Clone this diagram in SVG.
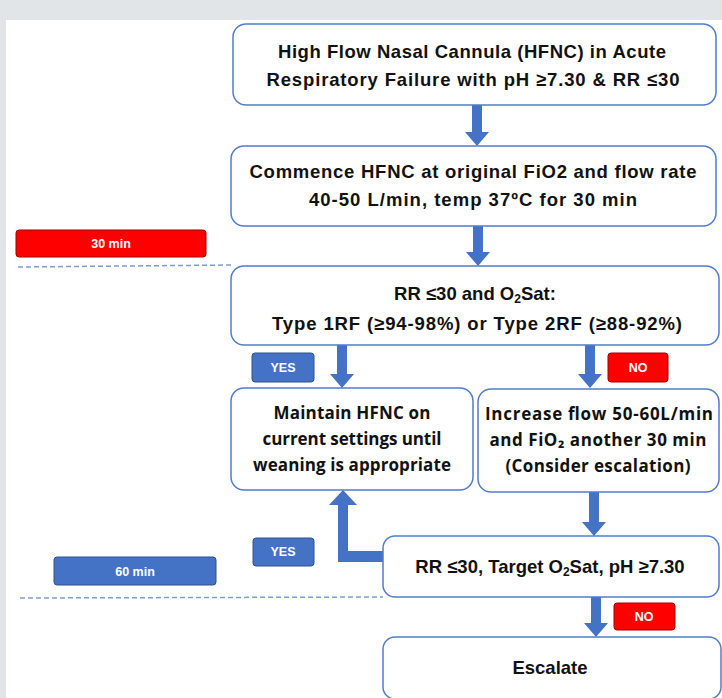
<svg xmlns="http://www.w3.org/2000/svg" width="722" height="698" viewBox="0 0 722 698">
<defs>
<style>
.box{fill:#fff;stroke:#4f7ccc;stroke-width:1.5}
.t{font-family:"Liberation Sans",Arial,sans-serif;font-weight:bold;font-size:18.5px;fill:#111;text-anchor:middle}
.o{font-family:"Open Sans","Liberation Sans",sans-serif;font-weight:bold;font-size:17px;fill:#111;text-anchor:middle}
.lbl{font-family:"Liberation Sans",Arial,sans-serif;font-weight:bold;font-size:12.5px;fill:#fff;text-anchor:middle}
.blue{fill:#4472c4;stroke:#2f528f;stroke-width:1}
.red{fill:#ff0000;stroke:#a00000;stroke-width:1}
.arr{fill:#4472c4}
.dash{stroke:#7f9bd6;stroke-width:1.5;stroke-dasharray:5 3;fill:none}
</style>
</defs>
<rect width="722" height="698" fill="#e1e5e7"/>
<rect x="6" y="20" width="716" height="678" fill="#fff"/>

<g id="connectors">
<path class="arr" d="M472,105 h10 v27 h7 l-12,14 l-12,-14 h7 z"/>
<path class="arr" d="M473,226 h10 v26 h7 l-12,14 l-12,-14 h7 z"/>
<path class="arr" d="M337,345 h10 v29 h7 l-12,14 l-12,-14 h7 z"/>
<path class="arr" d="M585,345 h10 v29 h7 l-12,14 l-12,-14 h7 z"/>
<path class="arr" d="M589,492 h10 v30 h7 l-12,14 l-12,-14 h7 z"/>
<path class="arr" d="M591,597 h10 v26 h7 l-12,14 l-12,-14 h7 z"/>
<path class="arr" d="M383,551 v11 h-45 v-57 h-9 l14,-15 l14,15 h-9 v46 z"/>
<line class="dash" x1="18" y1="267" x2="233" y2="265"/>
<line class="dash" x1="20" y1="598" x2="383" y2="597"/>
</g>

<g id="n1">
<rect class="box" x="233" y="24" width="483" height="81" rx="13"/>
<text class="t" x="472" y="58" textLength="388">High Flow Nasal Cannula (HFNC) in Acute</text>
<text class="t" x="473" y="86" textLength="413">Respiratory Failure with pH ≥7.30 &amp; RR ≤30</text>
</g>
<g id="n2">
<rect class="box" x="231" y="146" width="485" height="80" rx="13"/>
<text class="t" x="473" y="178" textLength="447">Commence HFNC at original FiO2 and flow rate</text>
<text class="t" x="473" y="206" textLength="328">40-50 L/min, temp 37ºC for 30 min</text>
</g>
<g id="n3">
<rect class="box" x="231" y="266" width="488" height="79" rx="13"/>
<text class="t" x="475" y="300">RR ≤30 and O<tspan font-size="12" dy="3">2</tspan><tspan dy="-3">Sat:</tspan></text>
<text class="t" x="477" y="330" textLength="410">Type 1RF (≥94-98%) or Type 2RF (≥88-92%)</text>
</g>
<g id="n4">
<rect class="box" x="231" y="388" width="242" height="102" rx="13"/>
<text class="o" x="352" y="419" textLength="157">Maintain HFNC on</text>
<text class="o" x="352" y="445" textLength="179">current settings until</text>
<text class="o" x="352" y="471" textLength="198">weaning is appropriate</text>
</g>
<g id="n5">
<rect class="box" x="478" y="389" width="241" height="103" rx="13"/>
<text class="o" x="599" y="420" textLength="228">Increase flow 50-60L/min</text>
<text class="o" x="598" y="446" textLength="217">and FiO₂ another 30 min</text>
<text class="o" x="598" y="472" textLength="185">(Consider escalation)</text>
</g>
<g id="n6">
<rect class="box" x="383" y="536" width="336" height="61" rx="12"/>
<text class="t" x="550" y="573">RR ≤30, Target O<tspan font-size="12" dy="3">2</tspan><tspan dy="-3">Sat, pH ≥7.30</tspan></text>
</g>
<g id="n7">
<rect class="box" x="383" y="637" width="338" height="62" rx="12"/>
<text class="t" x="550" y="674">Escalate</text>
</g>

<g id="l30"><rect class="red" x="16" y="230" width="190" height="27" rx="3"/><text class="lbl" x="111" y="248">30 min</text></g>
<g id="l60"><rect class="blue" x="54" y="557" width="162" height="28" rx="3"/><text class="lbl" x="135" y="576">60 min</text></g>
<g id="yes1"><rect class="blue" x="252" y="353" width="62" height="29" rx="3"/><text class="lbl" x="283" y="372">YES</text></g>
<g id="no1"><rect class="red" x="608" y="353" width="60" height="29" rx="3"/><text class="lbl" x="638" y="372">NO</text></g>
<g id="yes2"><rect class="blue" x="253" y="538" width="61" height="28" rx="3"/><text class="lbl" x="283" y="556">YES</text></g>
<g id="no2"><rect class="red" x="614" y="603" width="61" height="27" rx="3"/><text class="lbl" x="644" y="621">NO</text></g>
</svg>
